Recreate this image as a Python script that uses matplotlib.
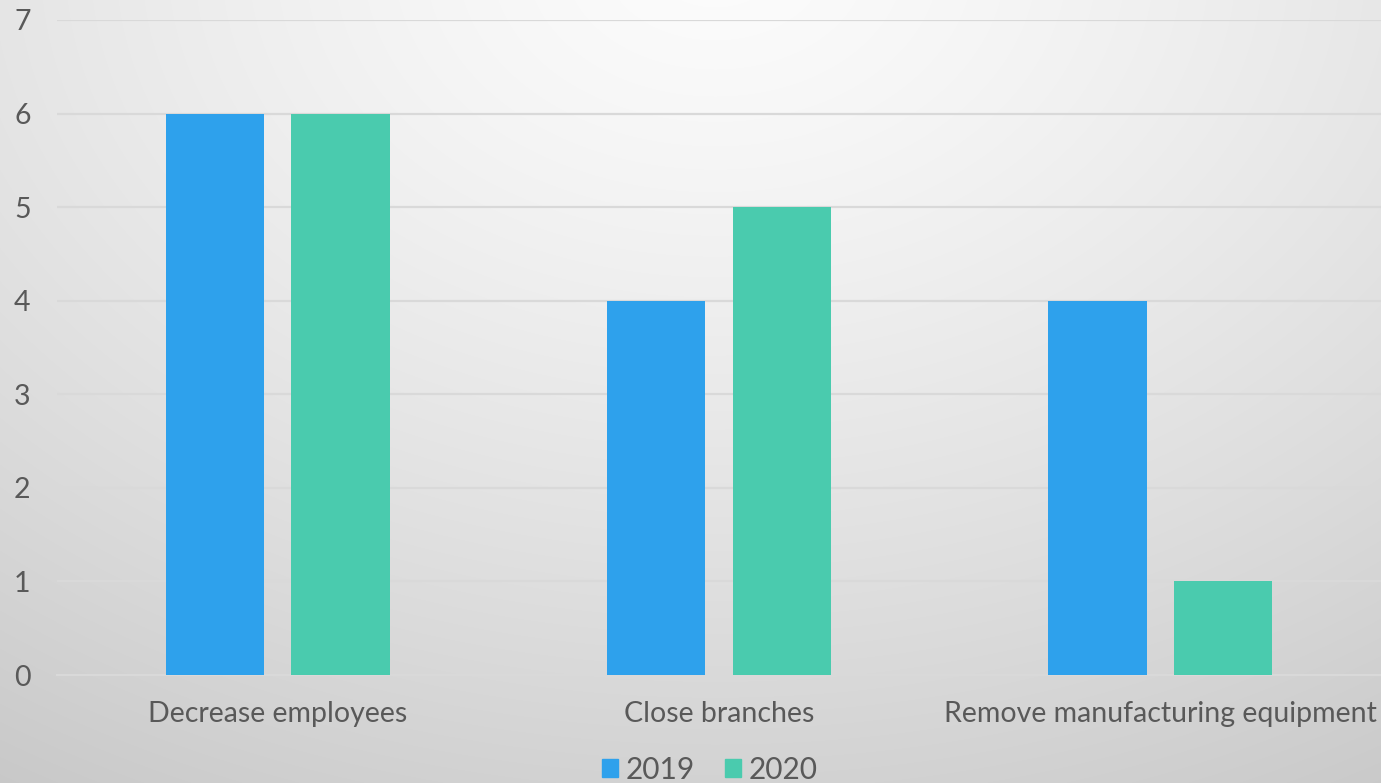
import numpy as np
import matplotlib
matplotlib.use("Agg")
import matplotlib.pyplot as plt
from matplotlib.patches import Patch

categories = ["Decrease employees", "Close branches", "Remove manufacturing equipment"]
series_names = ["2019", "2020"]
values_2019 = [6, 4, 4]
values_2020 = [6, 5, 1]
y_ticks = [0, 1, 2, 3, 4, 5, 6, 7]

colors = ["#2EA1EC", "#4ACBAE"]
text_color = "#595959"
grid_color = "#D9D9D9"

plt.rcParams["font.family"] = ["Lato", "DejaVu Sans"]

W, H = 1381, 783
fig = plt.figure(figsize=(W / 100, H / 100), dpi=100)

# radial background shading, light at the top centre, grey towards the bottom
bg = fig.add_axes([0, 0, 1, 1], zorder=-10)
yy, xx = np.mgrid[0:H, 0:W]
r = np.sqrt(((xx - 715) / 1150.0) ** 2 + ((yy + 40) / 830.0) ** 2)
shade = 252 - 42 * np.clip(r, 0, 1.2) ** 1.3
shade = np.clip(shade, 200, 253) / 255.0
bg.imshow(np.dstack([shade] * 3), aspect="auto", extent=[0, 1, 0, 1], origin="upper")
bg.axis("off")

ax = fig.add_axes([57 / W, 1 - 675 / H, 1 - 57 / W, (675 - 20) / H])
ax.patch.set_alpha(0)

x = np.arange(len(categories))
width = 0.223
offset = 0.1425
ax.bar(x - offset, values_2019, width, color=colors[0], label=series_names[0], zorder=3)
ax.bar(x + offset, values_2020, width, color=colors[1], label=series_names[1], zorder=3)

ax.set_xlim(-0.5, len(categories) - 0.5)
ax.set_ylim(0, 7)
ax.set_yticks(y_ticks)
ax.set_xticks(x)
ax.set_xticklabels(categories)
ax.yaxis.grid(True, color=grid_color, linewidth=1.6, zorder=0)
ax.set_axisbelow(True)
for s in ["top", "right", "left"]:
    ax.spines[s].set_visible(False)
ax.spines["bottom"].set_color(grid_color)
ax.spines["bottom"].set_linewidth(1.6)
ax.tick_params(axis="y", length=0, labelsize=20.5, colors=text_color, pad=19)
ax.tick_params(axis="x", length=0, labelsize=20.5, colors=text_color, pad=19)

handles = [Patch(color=c) for c in colors]
fig.legend(handles, series_names, loc="lower center", bbox_to_anchor=(0.514, -0.035),
           ncol=2, frameon=False, fontsize=21.5, labelcolor=text_color,
           handlelength=0.55, handleheight=0.55, handletextpad=0.25, columnspacing=1.0)

fig.savefig("out.png", dpi=100)
